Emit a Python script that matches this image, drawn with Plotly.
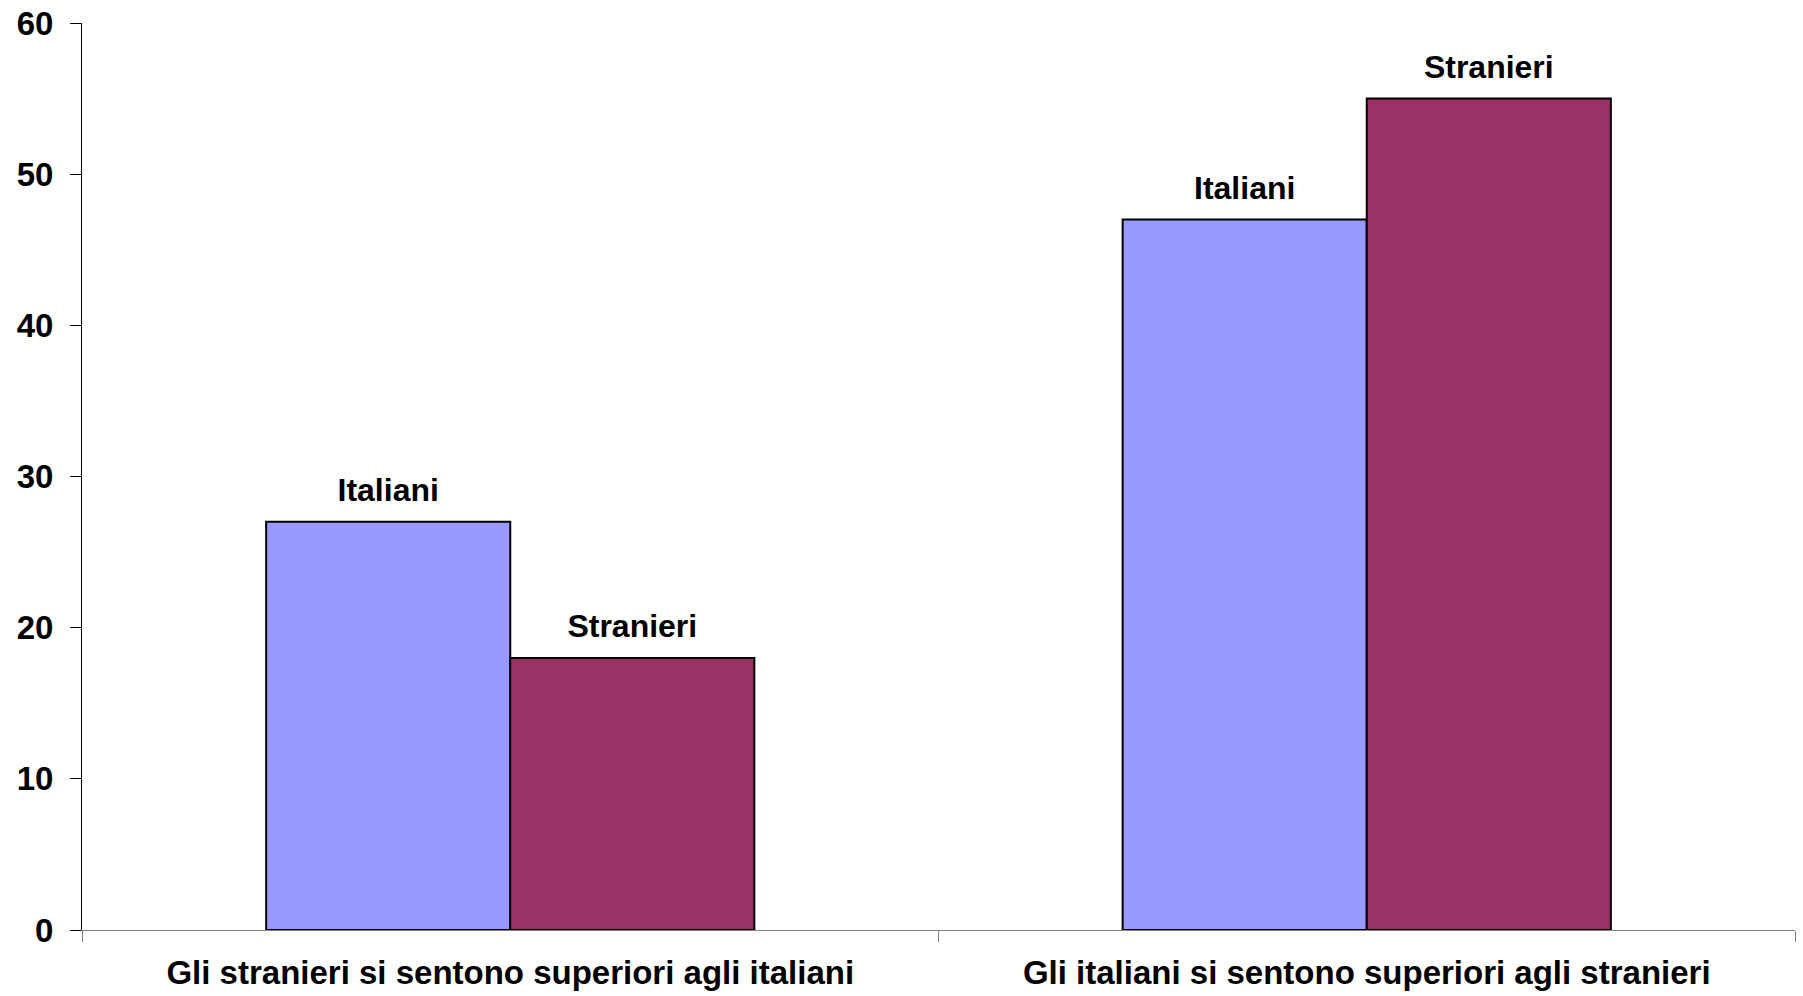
import plotly.graph_objects as go

categories = ["Gli stranieri si sentono superiori agli italiani",
              "Gli italiani si sentono superiori agli stranieri"]
series_names = ["Italiani", "Stranieri"]
italiani = [27, 47]
stranieri = [18, 55]
colors = ["#9999FF", "#993366"]
y_ticks = [0, 10, 20, 30, 40, 50, 60]

FONT = "Liberation Sans, Arial, sans-serif"
GAP = 0.43

fig = go.Figure()
for name, vals, col in zip(series_names, [italiani, stranieri], colors):
    fig.add_trace(go.Bar(
        x=categories, y=vals, name=name, offsetgroup=name,
        marker=dict(color=col, line=dict(color="black", width=2)),
        hoverinfo="x+y+name",
    ))
for name, vals in zip(series_names, [italiani, stranieri]):
    fig.add_trace(go.Scatter(
        x=categories, y=vals, name=name, offsetgroup=name,
        mode="markers+text", text=[f"<b>{name}</b>"] * len(vals),
        textposition="top center",
        marker=dict(size=19, color="rgba(0,0,0,0)"),
        textfont=dict(family=FONT, size=32, color="black"),
        cliponaxis=False, hoverinfo="skip",
    ))

fig.update_layout(
    barmode="group", bargap=GAP, bargroupgap=0,
    scattermode="group", scattergap=GAP,
    width=1803, height=996,
    margin=dict(l=82, r=8, t=23, b=66, autoexpand=False),
    plot_bgcolor="white", paper_bgcolor="white",
    showlegend=False,
    font=dict(family=FONT, color="black"),
)
fig.update_xaxes(
    showline=True, linecolor="#808080", linewidth=1,
    ticks="outside", tickson="boundaries", ticklen=11, tickcolor="#808080",
    tickfont=dict(family=FONT, size=33, color="black"),
    ticklabelstandoff=13,
    showgrid=False, range=[-0.5, 1.5],
    tickprefix="<b>", ticksuffix="</b>",
)
fig.update_yaxes(
    range=[0, 60], tickvals=y_ticks, ticktext=[f"<b>{v}</b>" for v in y_ticks],
    showline=True, linecolor="black", linewidth=1,
    ticks="outside", ticklen=11, tickcolor="black",
    tickfont=dict(family=FONT, size=33, color="black"),
    ticklabelstandoff=10,
    showgrid=False, zeroline=False,
)
fig.write_html(
    "out.html",
    config={"displayModeBar": False},
    post_script="document.body.style.margin='0';document.body.style.overflow='hidden';",
)
